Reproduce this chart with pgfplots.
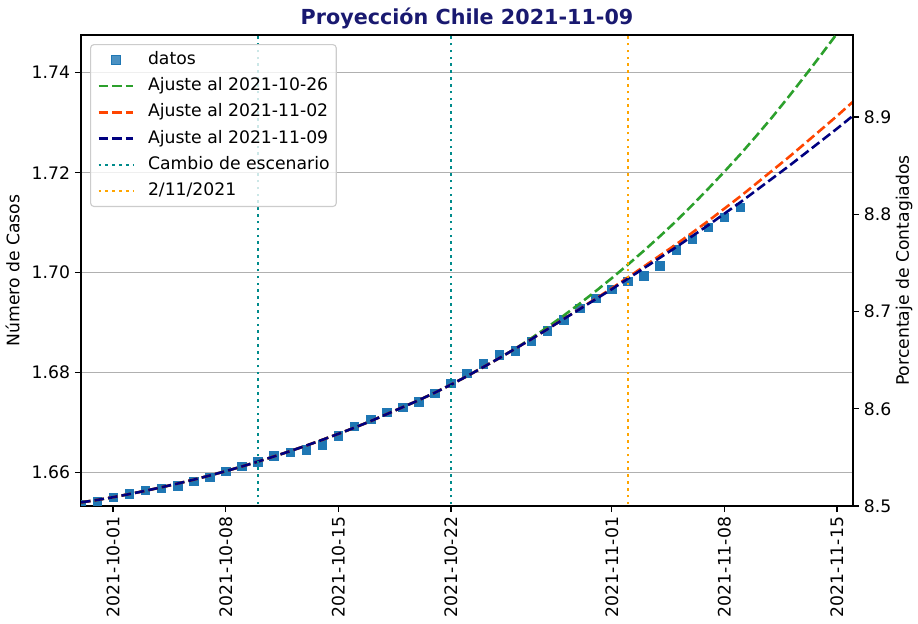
\documentclass[border=0pt]{standalone}
\usepackage{pgfplots}
\pgfplotsset{compat=1.18}
\usepackage{fontspec}
\setmainfont{DejaVu Sans}
\definecolor{tabblue}{HTML}{1F77B4}
\definecolor{tabgreen}{HTML}{2CA02C}
\definecolor{myorangered}{HTML}{FF4500}
\definecolor{mynavy}{HTML}{000080}
\definecolor{mydarkcyan}{HTML}{008B8B}
\definecolor{myorange}{HTML}{FFA500}
\definecolor{midnight}{HTML}{191970}
\definecolor{gridgray}{HTML}{B0B0B0}
\newcommand{\tickfont}{\fontsize{12.4bp}{14.5bp}\selectfont}

\pgfplotstableread{
d v
-2 1.6537
-1 1.6543
0 1.6551
1 1.6558
2 1.6565
3 1.6569
4 1.6574
5 1.6583
6 1.6591
7 1.6603
8 1.6613
9 1.6622
10 1.6634
11 1.6641
12 1.6646
13 1.6656
14 1.6674
15 1.6693
16 1.6707
17 1.6721
18 1.6731
19 1.6742
20 1.6759
21 1.6779
22 1.6799
23 1.6818
24 1.6836
25 1.6844
26 1.6863
27 1.6884
28 1.6906
29 1.6929
30 1.6949
31 1.6967
32 1.6983
33 1.6994
34 1.7014
35 1.7046
36 1.7067
37 1.7091
38 1.7111
39 1.7131
}\datos

\pgfplotstableread{
d v
-2 1.65405
-1 1.65455
0 1.65510
1 1.65572
2 1.65638
3 1.65708
4 1.65782
5 1.65860
6 1.65943
7 1.66031
8 1.66124
9 1.66222
10 1.66325
11 1.66431
12 1.66542
13 1.66657
14 1.66777
15 1.66900
16 1.67030
17 1.67170
18 1.67310
19 1.67450
20 1.67600
21 1.67760
22 1.67930
23 1.68110
24 1.68290
25 1.68480
26 1.68670
27 1.68870
28 1.69070
29 1.69270
30 1.69470
31 1.69670
32 1.69880
33 1.70090
34 1.70300
35 1.70510
36 1.70730
37 1.70950
38 1.71180
39 1.71410
40 1.71650
41 1.71890
42 1.72130
43 1.72380
44 1.72630
45 1.72880
46 1.73140
}\ajusteC

\pgfplotstableread{
d v
-2 1.65405
-1 1.65455
0 1.65510
1 1.65572
2 1.65638
3 1.65708
4 1.65782
5 1.65860
6 1.65943
7 1.66031
8 1.66124
9 1.66222
10 1.66325
11 1.66431
12 1.66542
13 1.66657
14 1.66777
15 1.66900
16 1.67030
17 1.67170
18 1.67310
19 1.67450
20 1.67600
21 1.67760
22 1.67930
23 1.68110
24 1.68290
25 1.68480
26 1.68670
27 1.68871
28 1.69073
29 1.69276
30 1.69481
31 1.69688
32 1.69905
33 1.70124
34 1.70345
35 1.70567
36 1.70800
37 1.71035
38 1.71281
39 1.71528
40 1.71787
41 1.72048
42 1.72309
43 1.72582
44 1.72857
45 1.73133
46 1.73420
}\ajusteB

\pgfplotstableread{
d v
-2 1.65405
-1 1.65455
0 1.65510
1 1.65572
2 1.65638
3 1.65708
4 1.65782
5 1.65860
6 1.65943
7 1.66031
8 1.66124
9 1.66222
10 1.66325
11 1.66431
12 1.66542
13 1.66657
14 1.66777
15 1.66900
16 1.67030
17 1.67170
18 1.67310
19 1.67450
20 1.67600
21 1.67760
22 1.67930
23 1.68110
24 1.68290
25 1.68480
26 1.68690
27 1.68910
28 1.69140
29 1.69380
30 1.69630
31 1.69890
32 1.70160
33 1.70440
34 1.70730
35 1.71030
36 1.71350
37 1.71680
38 1.72020
39 1.72370
40 1.72740
41 1.73120
42 1.73520
43 1.73930
44 1.74350
45 1.74780
46 1.75220
}\ajusteA

\begin{document}
\begin{tikzpicture}
\useasboundingbox (-58.32bp,-84.96bp) rectangle (602.64bp,364.32bp);
\begin{axis}[
  at={(0,0)}, anchor=south west,
  scale only axis, width=555.84bp, height=339.12bp,
  xmin=-2, xmax=46,
  ymin=1.65334, ymax=1.74754,
  clip marker paths=true,
  xtick={0,7,14,21,31,38,45},
  xticklabels={2021-10-01,2021-10-08,2021-10-15,2021-10-22,2021-11-01,2021-11-08,2021-11-15},
  xtick pos=lower, ytick pos=left,
  ytick={1.66,1.68,1.70,1.72,1.74},
  scaled ticks=false,
  /pgf/number format/assume math mode=true,
  yticklabel style={/pgf/number format/.cd, fixed, fixed zerofill, precision=2},
  tick label style={font=\tickfont, black},
  xticklabel style={rotate=90, anchor=east},
  tick align=outside,
  major tick length=4.34bp,
  tick style={black, line width=0.99bp},
  axis line style={black, line width=0.99bp},
  ymajorgrids,
  major grid style={gridgray, line width=0.99bp},
  ylabel={Número de Casos},
  every axis y label/.style={at={(axis description cs:-0.0887,0.5)}, rotate=90, anchor=center, font=\tickfont},
  title={Proyección Chile 2021-11-09},
  every axis title/.style={at={(axis description cs:0.5,1)}, anchor=base, yshift=7.44bp, font=\bfseries\fontsize{14.9bp}{17bp}\selectfont, text=midnight},
  legend cell align=left,
  legend image code/.code={\draw[mark repeat=2,mark phase=2,#1] plot coordinates {(0bp,0bp) (12.4bp,0bp) (24.8bp,0bp)}; \path (0bp,0bp) (34.7bp,0bp);},
  legend style={at={(axis description cs:0,1)}, anchor=north west, xshift=6.5bp, yshift=-6.5bp,
    draw=black!20, line width=0.8bp, rounded corners=2.5bp, fill=white, fill opacity=0.8, text opacity=1,
    font=\tickfont, inner xsep=4.8bp, inner ysep=4.85bp, row sep=6.5bp, column sep=0bp,
    nodes={inner sep=0pt, text height=9.4bp, text depth=3bp}},
]
\addplot[only marks, mark=square*, mark size=3.1bp, color=tabblue, mark options={draw=tabblue, fill=tabblue}] table[x=d, y=v] {\datos};
\addlegendentry{datos}
\addplot[tabgreen, line width=1.86bp, dash pattern=on 6.88bp off 2.98bp] table[x=d, y=v] {\ajusteA};
\addlegendentry{Ajuste al 2021-10-26}
\addplot[myorangered, line width=1.86bp, dash pattern=on 6.88bp off 2.98bp] table[x=d, y=v] {\ajusteB};
\addlegendentry{Ajuste al 2021-11-02}
\addplot[mynavy, line width=1.86bp, dash pattern=on 6.88bp off 2.98bp] table[x=d, y=v] {\ajusteC};
\addlegendentry{Ajuste al 2021-11-09}
\addplot[mydarkcyan, line width=1.86bp, dash pattern=on 1.86bp off 3.07bp] coordinates {(9,1.64) (9,1.76)};
\addlegendentry{Cambio de escenario}
\addplot[mydarkcyan, line width=1.86bp, dash pattern=on 1.86bp off 3.07bp, forget plot] coordinates {(21,1.64) (21,1.76)};
\addplot[myorange, line width=1.86bp, dash pattern=on 1.86bp off 3.07bp] coordinates {(32,1.64) (32,1.76)};
\addlegendentry{2/11/2021}
\node[anchor=base west, inner sep=0pt, font=\tickfont] at (axis description cs:0.002,1) [yshift=4.1bp] {1e6};
\end{axis}
\begin{axis}[
  at={(0,0)}, anchor=south west,
  scale only axis, width=555.84bp, height=339.12bp,
  xmin=-2, xmax=46,
  ymin=8.5, ymax=8.98427,
  axis x line=none,
  axis y line*=right,
  ytick={8.5,8.6,8.7,8.8,8.9},
  scaled ticks=false,
  /pgf/number format/assume math mode=true,
  yticklabel style={/pgf/number format/.cd, fixed, fixed zerofill, precision=1},
  tick label style={font=\tickfont, black},
  tick align=outside,
  major tick length=4.34bp,
  tick style={black, line width=0.99bp},
  axis line style={black, line width=0.99bp, -},
  ylabel={Porcentaje de Contagiados},
  every axis y label/.style={at={(axis description cs:1.0661,0.5)}, rotate=90, anchor=center, font=\tickfont},
]
\end{axis}
\end{tikzpicture}
\end{document}
